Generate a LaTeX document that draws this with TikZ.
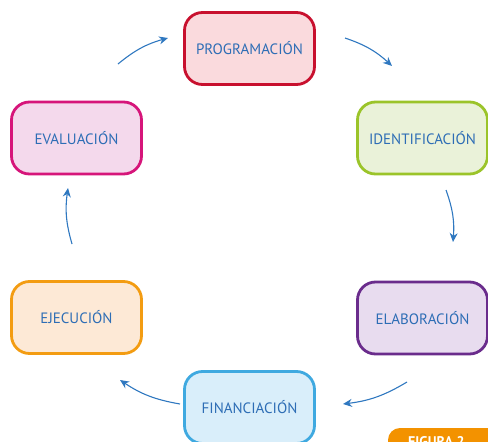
\documentclass[tikz,border=0pt]{standalone}
\usepackage{fontspec}
\setmainfont{PT Sans}
\usetikzlibrary{arrows.meta}
\definecolor{txtblue}{HTML}{2D6DB5}
\definecolor{arrblue}{HTML}{2F78C0}
\definecolor{progB}{HTML}{C8102E}\definecolor{progF}{HTML}{FADADD}
\definecolor{idenB}{HTML}{9BC42A}\definecolor{idenF}{HTML}{EAF2D9}
\definecolor{elabB}{HTML}{6A2C8C}\definecolor{elabF}{HTML}{E8DCEF}
\definecolor{finaB}{HTML}{3FA9E0}\definecolor{finaF}{HTML}{D9EEFA}
\definecolor{ejecB}{HTML}{F39C12}\definecolor{ejecF}{HTML}{FDE9D6}
\definecolor{evalB}{HTML}{D6157A}\definecolor{evalF}{HTML}{F4D9EC}
\definecolor{tabor}{HTML}{F39200}
\tikzset{
  stage/.style={rounded corners=18pt, line width=2.8pt, minimum width=130pt, minimum height=72pt,
    text=txtblue, font=\fontsize{15}{17}\selectfont, inner sep=0pt},
  flow/.style={arrblue, line width=1.1pt, -{Stealth[length=9pt,width=8pt]}}
}
\begin{document}
\begin{tikzpicture}[x=1pt,y=-1pt]
\useasboundingbox (0,0) rectangle (488,442);
\begin{scope}
\clip (0,0) rectangle (488,442);
\node[stage, draw=progB, fill=progF] (prog) at (249.5,48.5) {PROGRAMACIÓN};
\node[stage, draw=idenB, fill=idenF] (iden) at (422.5,138) {IDENTIFICACIÓN};
\node[stage, draw=elabB, fill=elabF] (elab) at (422.5,318) {ELABORACIÓN};
\node[stage, draw=finaB, fill=finaF] (fina) at (249.5,407.5) {FINANCIACIÓN};
\node[stage, draw=ejecB, fill=ejecF] (ejec) at (76.5,317.5) {EJECUCIÓN};
\node[stage, draw=evalB, fill=evalF] (eval) at (76.5,138) {EVALUACIÓN};
\fill[tabor, rounded corners=12pt] (388,428) rectangle (540,470);
\node[text=white, font=\bfseries\fontsize{14}{16}\selectfont, anchor=north west, inner sep=0pt] (tab) at (408,436) {FIGURA 2};
\end{scope}
\coordinate (a1s) at (118,64); \coordinate (a1e) at (168,38);
\coordinate (a2s) at (345,38); \coordinate (a2e) at (392,66);
\coordinate (a3s) at (446,190); \coordinate (a3e) at (453,242);
\coordinate (a4s) at (407,382); \coordinate (a4e) at (343,404);
\coordinate (a5s) at (180,404); \coordinate (a5e) at (120,380);
\coordinate (a6s) at (72,244); \coordinate (a6e) at (68,188);
\draw[flow] (a1s) to[bend left=12] (a1e);
\draw[flow] (a2s) to[bend left=12] (a2e);
\draw[flow] (a3s) to[bend left=12] (a3e);
\draw[flow] (a4s) to[bend left=12] (a4e);
\draw[flow] (a5s) to[bend left=12] (a5e);
\draw[flow] (a6s) to[bend left=12] (a6e);
\end{tikzpicture}
\end{document}
